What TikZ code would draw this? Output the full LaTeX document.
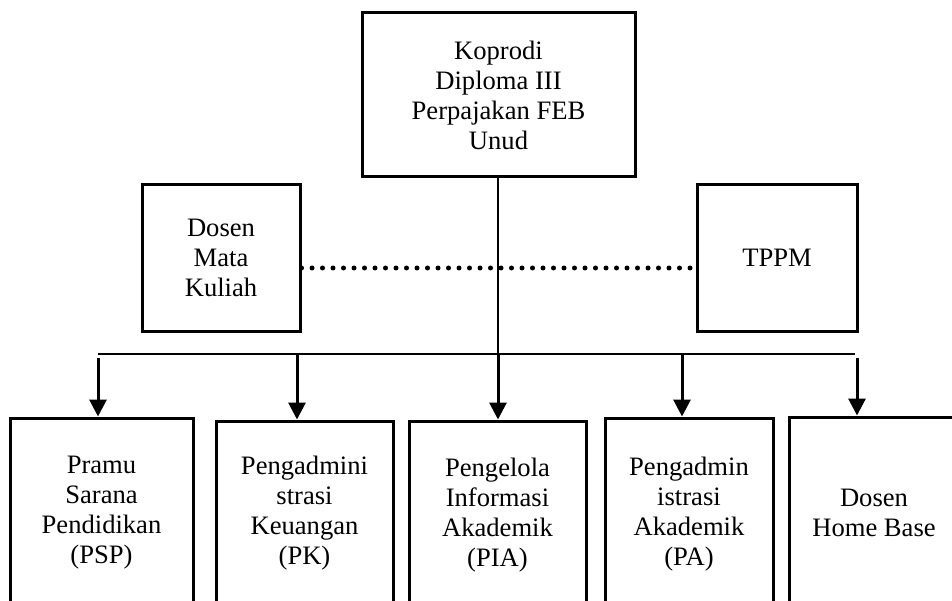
\documentclass[tikz,border=0pt]{standalone}
\usepackage{fontspec}
\setmainfont{Liberation Serif}
\usetikzlibrary{arrows.meta}

\begin{document}
\begin{tikzpicture}[x=1pt,y=-1pt,
  box/.style={draw,line width=3pt,inner sep=0pt,align=center,
    font=\fontsize{26.6}{30}\selectfont},
  link/.style={line width=2pt},
  down/.style={line width=3pt,-{Triangle[width=17pt,length=17pt]}}]
\useasboundingbox (0,0) rectangle (952,601);
\clip (0,0) rectangle (952,601);
%% top level
\node[box,minimum width=273pt,minimum height=164pt] (kopr) at (498.5,95) {Koprodi\\Diploma III\\Perpajakan FEB\\Unud};
\node[box,minimum width=158pt,minimum height=146pt] (dmk) at (221,258) {Dosen\\Mata\\Kuliah};
\node[box,minimum width=160pt,minimum height=146pt] (tppm) at (777,258) {TPPM};
%% bottom row
\node[box,minimum width=183pt,minimum height=190pt] (psp) at (101.5,513) {Pramu\\Sarana\\Pendidikan\\(PSP)};
\node[box,minimum width=177pt,minimum height=184pt] (pk) at (304.5,513) {Pengadmini\\strasi\\Keuangan\\(PK)};
\node[box,minimum width=177pt,minimum height=188pt] (pia) at (497.5,515) {Pengelola\\Informasi\\Akademik\\(PIA)};
\node[box,minimum width=168pt,minimum height=192pt] (pa) at (689,514) {Pengadmin\\istrasi\\Akademik\\(PA)};
\node[box,minimum width=170pt,minimum height=192pt] (dhb) at (874,513) {Dosen\\Home Base};
%% bus
\coordinate (b1) at (98,358);
\coordinate (b2) at (297,354);
\coordinate (b3) at (498,354);
\coordinate (b4) at (682,354);
\coordinate (b5) at (857,358);
\draw[link] (98,354) -- (855,354);
\draw[link] (kopr.south -| b3) -- (b3);
\draw[line width=5pt,line cap=round,dash pattern=on 0pt off 10.5pt]
  ([yshift=-10pt]dmk.east) -- ([yshift=-10pt]tppm.west);
\draw[down] (b1) -- (psp.north -| b1);
\draw[down] (b2) -- (pk.north -| b2);
\draw[down] (b3) -- (pia.north -| b3);
\draw[down] (b4) -- (pa.north -| b4);
\draw[down] (b5) -- (dhb.north -| b5);
\end{tikzpicture}
\end{document}
